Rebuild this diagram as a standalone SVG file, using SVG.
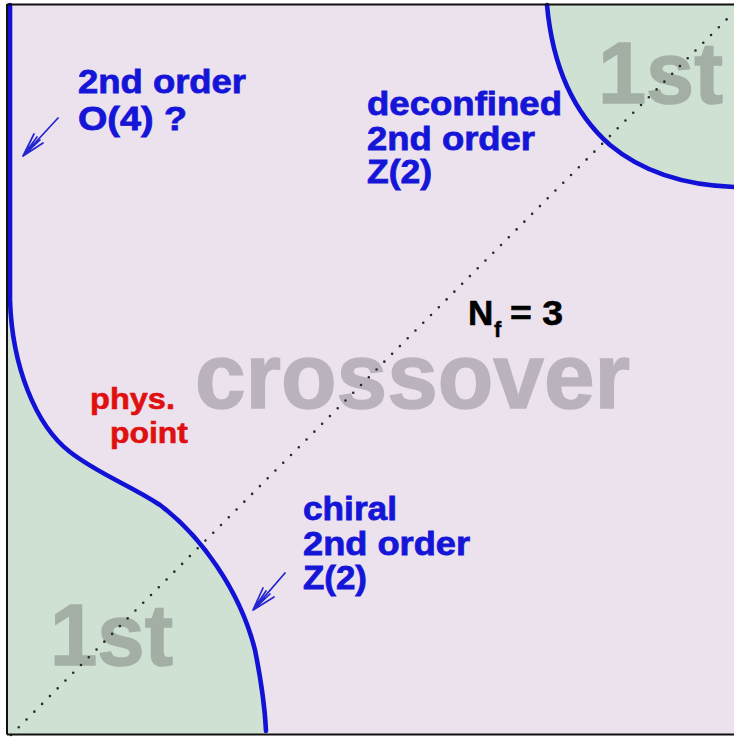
<svg xmlns="http://www.w3.org/2000/svg" width="734" height="739" viewBox="0 0 734 739">
<defs>
<style>
.bg{fill:#ece2ee}
.green{fill:#cfe1d3}
.curve{fill:none;stroke:#1212d6;stroke-width:4.6;stroke-linecap:round;stroke-linejoin:round}
.dots{fill:none;stroke:#2a2a2a;stroke-width:2.6;stroke-linecap:round;stroke-dasharray:0 11}
.arrow{fill:none;stroke:#2525d0;stroke-width:1.7;stroke-linecap:round}
text{font-family:"Liberation Sans",Arial,sans-serif;font-weight:bold}
.blue{fill:#1515d8;stroke:#1515d8;stroke-width:0.8;font-size:34px}
.red{fill:#e01010;stroke:#e01010;stroke-width:0.6;font-size:30px}
.black{fill:#000;stroke:#000;stroke-width:0.6;font-size:35px}
.sub{fill:#000;stroke:#000;stroke-width:0.4;font-size:22px}
.big{fill:#bab3bd;stroke:#bab3bd;stroke-width:1.5;font-size:92px}
.first{fill:#a3afa5;stroke:#a3afa5;stroke-width:1.5;font-size:88px}
</style>
</defs>
<rect x="0" y="0" width="734" height="739" fill="#ffffff"/>
<rect class="bg" x="7" y="5" width="727" height="729"/>
<g id="region-first-bottom">
<path class="green" d="M10,300 C12,365 35,425 70,452 C100,475 130,485 160,505 C200,535 240,590 255,650 C262,685 265,710 266,734 L8,734 L8,300 Z"/>
<text class="first" x="50" y="665" textLength="123" lengthAdjust="spacingAndGlyphs">1st</text>
</g>
<g id="region-first-top">
<path class="green" d="M547,5 C552,60 570,110 610,145 C640,170 680,185 734,187 L734,5 Z"/>
<text class="first" x="598" y="103" textLength="125" lengthAdjust="spacingAndGlyphs">1st</text>
</g>
<g id="region-crossover">
<text class="big" x="195" y="408" textLength="435" lengthAdjust="spacingAndGlyphs">crossover</text>
</g>
<g id="connectors">
<path class="dots" d="M11,735 L734,12"/>
<path class="curve" d="M10,5 L10,300 C12,365 35,425 70,452 C100,475 130,485 160,505 C200,535 240,590 255,650 C262,685 265,710 266,731"/>
<path class="curve" d="M547,5 C552,60 570,110 610,145 C640,170 680,185 734,187"/>
<path class="arrow" d="M58,118 L23,156 M23,156 L34,134 M23,156 L43,143 M23,156 L37,137 M23,156 L40,140"/>
<path class="arrow" d="M285,573 L253,610 M253,610 L263,588 M253,610 L274,597 M253,610 L266,591 M253,610 L270,594"/>
</g>
<g id="label-o4">
<text class="blue" x="78" y="93" textLength="168" lengthAdjust="spacingAndGlyphs">2nd order</text>
<text class="blue" x="78" y="130" textLength="109" lengthAdjust="spacingAndGlyphs">O(4) ?</text>
</g>
<g id="label-deconfined">
<text class="blue" x="367" y="115" textLength="195" lengthAdjust="spacingAndGlyphs">deconfined</text>
<text class="blue" x="367" y="150" textLength="168" lengthAdjust="spacingAndGlyphs">2nd order</text>
<text class="blue" x="367" y="183" textLength="65" lengthAdjust="spacingAndGlyphs">Z(2)</text>
</g>
<g id="label-chiral">
<text class="blue" x="303" y="520" textLength="94" lengthAdjust="spacingAndGlyphs">chiral</text>
<text class="blue" x="303" y="555" textLength="167" lengthAdjust="spacingAndGlyphs">2nd order</text>
<text class="blue" x="303" y="589" textLength="64" lengthAdjust="spacingAndGlyphs">Z(2)</text>
</g>
<g id="label-phys">
<text class="red" x="90" y="409" textLength="85" lengthAdjust="spacingAndGlyphs">phys.</text>
<text class="red" x="110" y="443" textLength="78" lengthAdjust="spacingAndGlyphs">point</text>
</g>
<g id="label-nf">
<text class="black" x="468" y="325">N</text>
<text class="sub" x="494" y="337">f</text>
<text class="black" x="510" y="325" textLength="53" lengthAdjust="spacingAndGlyphs">= 3</text>
</g>
<g id="frame">
<path d="M7,4.5 L734,4.5 M7,4 L7,734.5 M7,734.5 L734,734.5" fill="none" stroke="#111" stroke-width="2"/>
</g>
</svg>
